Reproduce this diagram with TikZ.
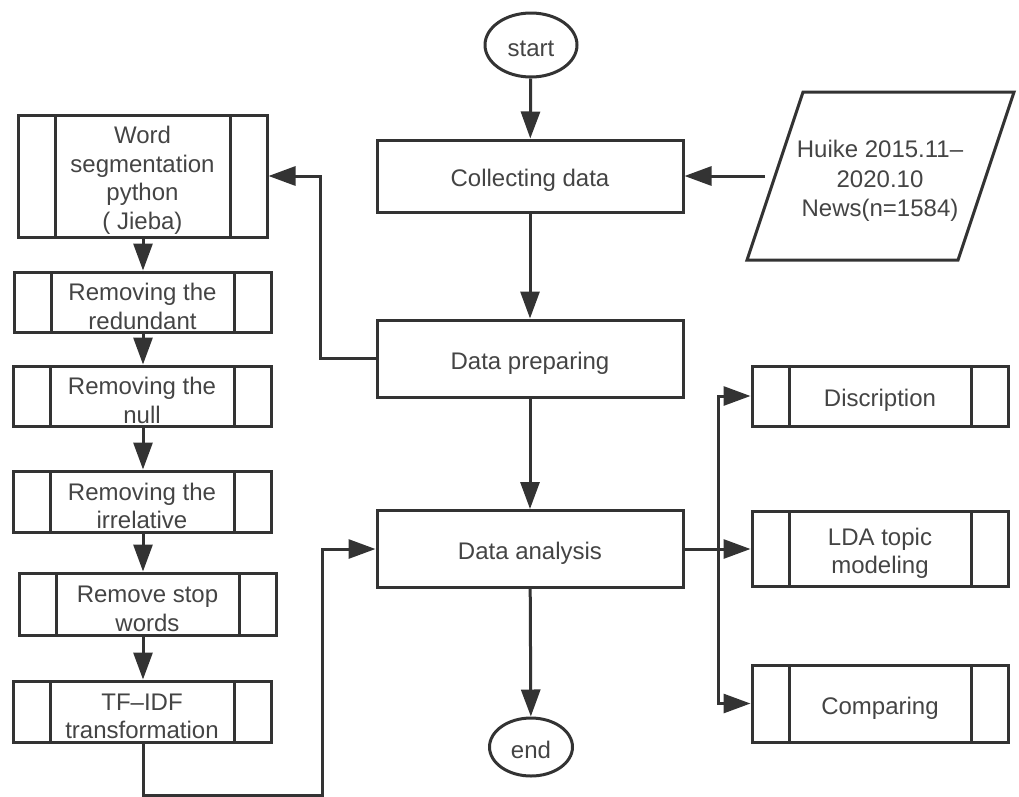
\documentclass[tikz,border=0pt]{standalone}
\usepackage{fontspec}
\setmainfont{Liberation Sans}
\usetikzlibrary{arrows.meta,shapes.geometric}
\definecolor{ln}{HTML}{333333}
\definecolor{tx}{HTML}{444444}
\newcommand{\tstrutx}{\rule{0pt}{26pt}}
\begin{document}
\begin{tikzpicture}[x=1pt,y=-1pt,
  every node/.style={font=\fontsize{24}{28.5}\selectfont, text=tx},
  proc/.style={draw=ln, line width=3pt, rectangle, inner sep=0pt, align=center},
  subproc/.style={proc, path picture={
     \draw[ln, line width=3pt] ([xshift=#1]path picture bounding box.south west) -- ([xshift=#1]path picture bounding box.north west);
     \draw[ln, line width=3pt] ([xshift=-#1]path picture bounding box.south east) -- ([xshift=-#1]path picture bounding box.north east);}},
  subproc/.default=37pt,
  term/.style={draw=ln, line width=3pt, ellipse, inner sep=0pt, text height=22pt, text depth=0pt},
  conn/.style={draw=ln, line width=3pt},
  arr/.style={conn, -{Triangle[length=27pt,width=19pt]}}
]
\useasboundingbox (0,0) rectangle (1019,796);

% main column
\node[term, minimum width=92pt, minimum height=64pt] (start) at (531,45) {start};
\node[proc, minimum width=306pt, minimum height=72pt] (collect) at (530,176) {\tstrutx Collecting data};
\node[proc, minimum width=306pt, minimum height=77pt] (prep) at (530,358.5) {\tstrutx Data preparing};
\node[proc, minimum width=306pt, minimum height=77pt] (anal) at (530,549) {\tstrutx Data analysis};
\node[term, minimum width=83pt, minimum height=58pt] (end) at (531,747) {end};

% source parallelogram
\draw[ln, line width=3pt] (803,92) -- (1014,92) -- (958,260) -- (747,260) -- cycle;
\node[align=center, font=\fontsize{24}{29.5}\selectfont] (src) at (880,181) {Huike 2015.11–\\2020.10\\News(n=1584)};
\coordinate (srcL) at (765,176);

% left column
\node[subproc, minimum width=249pt, minimum height=122pt] (seg) at (142.5,176) {\tstrutx Word\\segmentation\\python\\( Jieba)};
\node[subproc, minimum width=257pt, minimum height=60pt] (red) at (142.5,302) {\tstrutx Removing the\\redundant};
\node[subproc, minimum width=258pt, minimum height=60pt] (null) at (142,396) {\tstrutx Removing the\\null};
\node[subproc, minimum width=258pt, minimum height=61pt] (irr) at (142,501.5) {\tstrutx Removing the\\irrelative};
\node[subproc, minimum width=257pt, minimum height=62pt] (stop) at (147.5,604) {\tstrutx Remove stop\\words};
\node[subproc, minimum width=258pt, minimum height=61pt] (tfidf) at (142,711.5) {\tstrutx TF–IDF\\transformation};

% right column
\node[subproc, minimum width=256pt, minimum height=60pt] (desc) at (880,396) {\tstrutx Discription};
\node[subproc, minimum width=256pt, minimum height=75pt] (lda) at (880,549) {\tstrutx LDA topic\\modeling};
\node[subproc, minimum width=256pt, minimum height=77pt] (comp) at (880,703.5) {\tstrutx Comparing};

% connectors
\draw[arr] (start) -- (collect);
\draw[arr] (collect) -- (prep);
\draw[arr] (prep) -- (anal);
\draw[arr] (anal) -- (end);
\draw[arr] (srcL) -- (collect.east);
\draw[arr] (prep.west) -- (320,358.5) |- (seg.east);
\draw[arr] (seg.south -| 143,0) -- (red.north -| 143,0);
\draw[arr] (red.south -| 143,0) -- (null.north -| 143,0);
\draw[arr] (null.south -| 143,0) -- (irr.north -| 143,0);
\draw[arr] (irr.south -| 143,0) -- (stop.north -| 143,0);
\draw[arr] (stop.south -| 143,0) -- (tfidf.north -| 143,0);
\coordinate (bot) at (322,795);
\draw[arr] (tfidf.south -| 143,0) |- (bot) |- (anal.west);
\coordinate (br) at (718,549);
\draw[arr] (anal.east) -- (lda.west);
\draw[arr] (br) |- (desc.west);
\draw[arr] (br) |- (comp.west);
\end{tikzpicture}
\end{document}
